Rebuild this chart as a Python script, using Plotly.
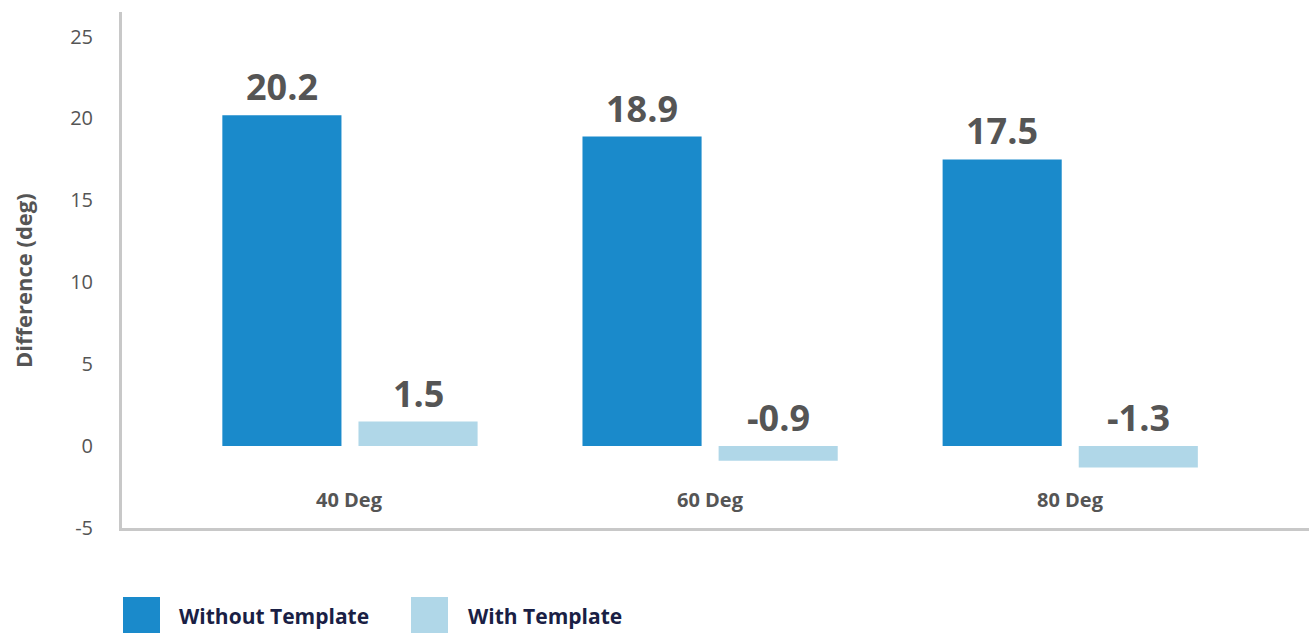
import plotly.graph_objects as go

categories = ["40 Deg", "60 Deg", "80 Deg"]
without_template = [20.2, 18.9, 17.5]
with_template = [1.5, -0.9, -1.3]
series_names = ["Without Template", "With Template"]
y_ticks = [-5, 0, 5, 10, 15, 20, 25]
y_tick_labels = ["-5", "0", "5", "10", "15", "20", "25"]

DARK = "#1a8acb"
LIGHT = "#b0d7e8"
GREY_TEXT = "#555555"
NAVY = "#1a1f45"
AXIS = "#c8c8c8"
FONT = "Open Sans"

W, H = 1309, 633
ML, MR, MT, MB = 122, 0, 12, 105
PW = W - ML - MR
PH = H - MT - MB

fig = go.Figure()
fig.add_trace(go.Bar(x=categories, y=without_template, name=series_names[0],
                     marker=dict(color=DARK, line=dict(width=0)), showlegend=False))
fig.add_trace(go.Bar(x=categories, y=with_template, name=series_names[1],
                     marker=dict(color=LIGHT, line=dict(width=0)), showlegend=False))

annotations = []
# value labels above each bar (negatives sit above the zero line)
offsets = [-0.189, 0.189]
for s, vals in enumerate([without_template, with_template]):
    for i, v in enumerate(vals):
        annotations.append(dict(
            x=i + offsets[s], y=max(v, 0), xref="x", yref="y",
            text=f"<b>{v:.1f}</b>", showarrow=False, yanchor="bottom",
            yshift=2, font=dict(family=FONT, size=36, color=GREY_TEXT)))

# category labels inside the plot, just above the baseline
for i, c in enumerate(categories):
    annotations.append(dict(
        x=i, y=(H - MB - 499) / PH, xref="x", yref="paper",
        text=f"<b>{c}</b>", showarrow=False, yanchor="middle",
        font=dict(family=FONT, size=20, color=GREY_TEXT)))

# y-axis title
annotations.append(dict(
    x=(23 - ML) / PW, y=(H - MB - 281) / PH, xref="paper", yref="paper",
    text="<b>Difference (deg)</b>", textangle=-90, showarrow=False,
    xanchor="center", yanchor="middle",
    font=dict(family=FONT, size=22, color=GREY_TEXT)))

# legend: swatches and labels
shapes = []
legend_items = [(123, DARK, 177, series_names[0]), (411, LIGHT, 466, series_names[1])]
for sx, col, tx, name in legend_items:
    shapes.append(dict(
        type="rect", xref="paper", yref="paper",
        x0=(sx - ML) / PW, x1=(sx + 37 - ML) / PW,
        y0=(H - MB - 634) / PH, y1=(H - MB - 597) / PH,
        fillcolor=col, line=dict(width=0), layer="above"))
    annotations.append(dict(
        x=(tx - ML) / PW, y=(H - MB - 616) / PH, xref="paper", yref="paper",
        text=f"<b>{name}</b>", showarrow=False, xanchor="left", yanchor="middle",
        font=dict(family=FONT, size=21, color=NAVY)))

fig.update_layout(
    width=W, height=H,
    margin=dict(l=ML, r=MR, t=MT, b=MB, pad=0),
    paper_bgcolor="white", plot_bgcolor="white",
    barmode="group", bargap=0.244, bargroupgap=0.125,
    annotations=annotations, shapes=shapes,
    font=dict(family=FONT, color=GREY_TEXT),
)
fig.update_xaxes(
    type="category", range=[-0.633, 2.663], showticklabels=False,
    showgrid=False, zeroline=False, showline=True, linecolor=AXIS, linewidth=3,
    ticks="")
fig.update_yaxes(
    range=[-5, 26.5], tickvals=y_ticks, ticktext=y_tick_labels,
    showgrid=False, zeroline=False,
    showline=True, linecolor=AXIS, linewidth=3, ticks="",
    ticklabelstandoff=22,
    tickfont=dict(family=FONT, size=20, color=GREY_TEXT))

fig.write_html("out.html")
